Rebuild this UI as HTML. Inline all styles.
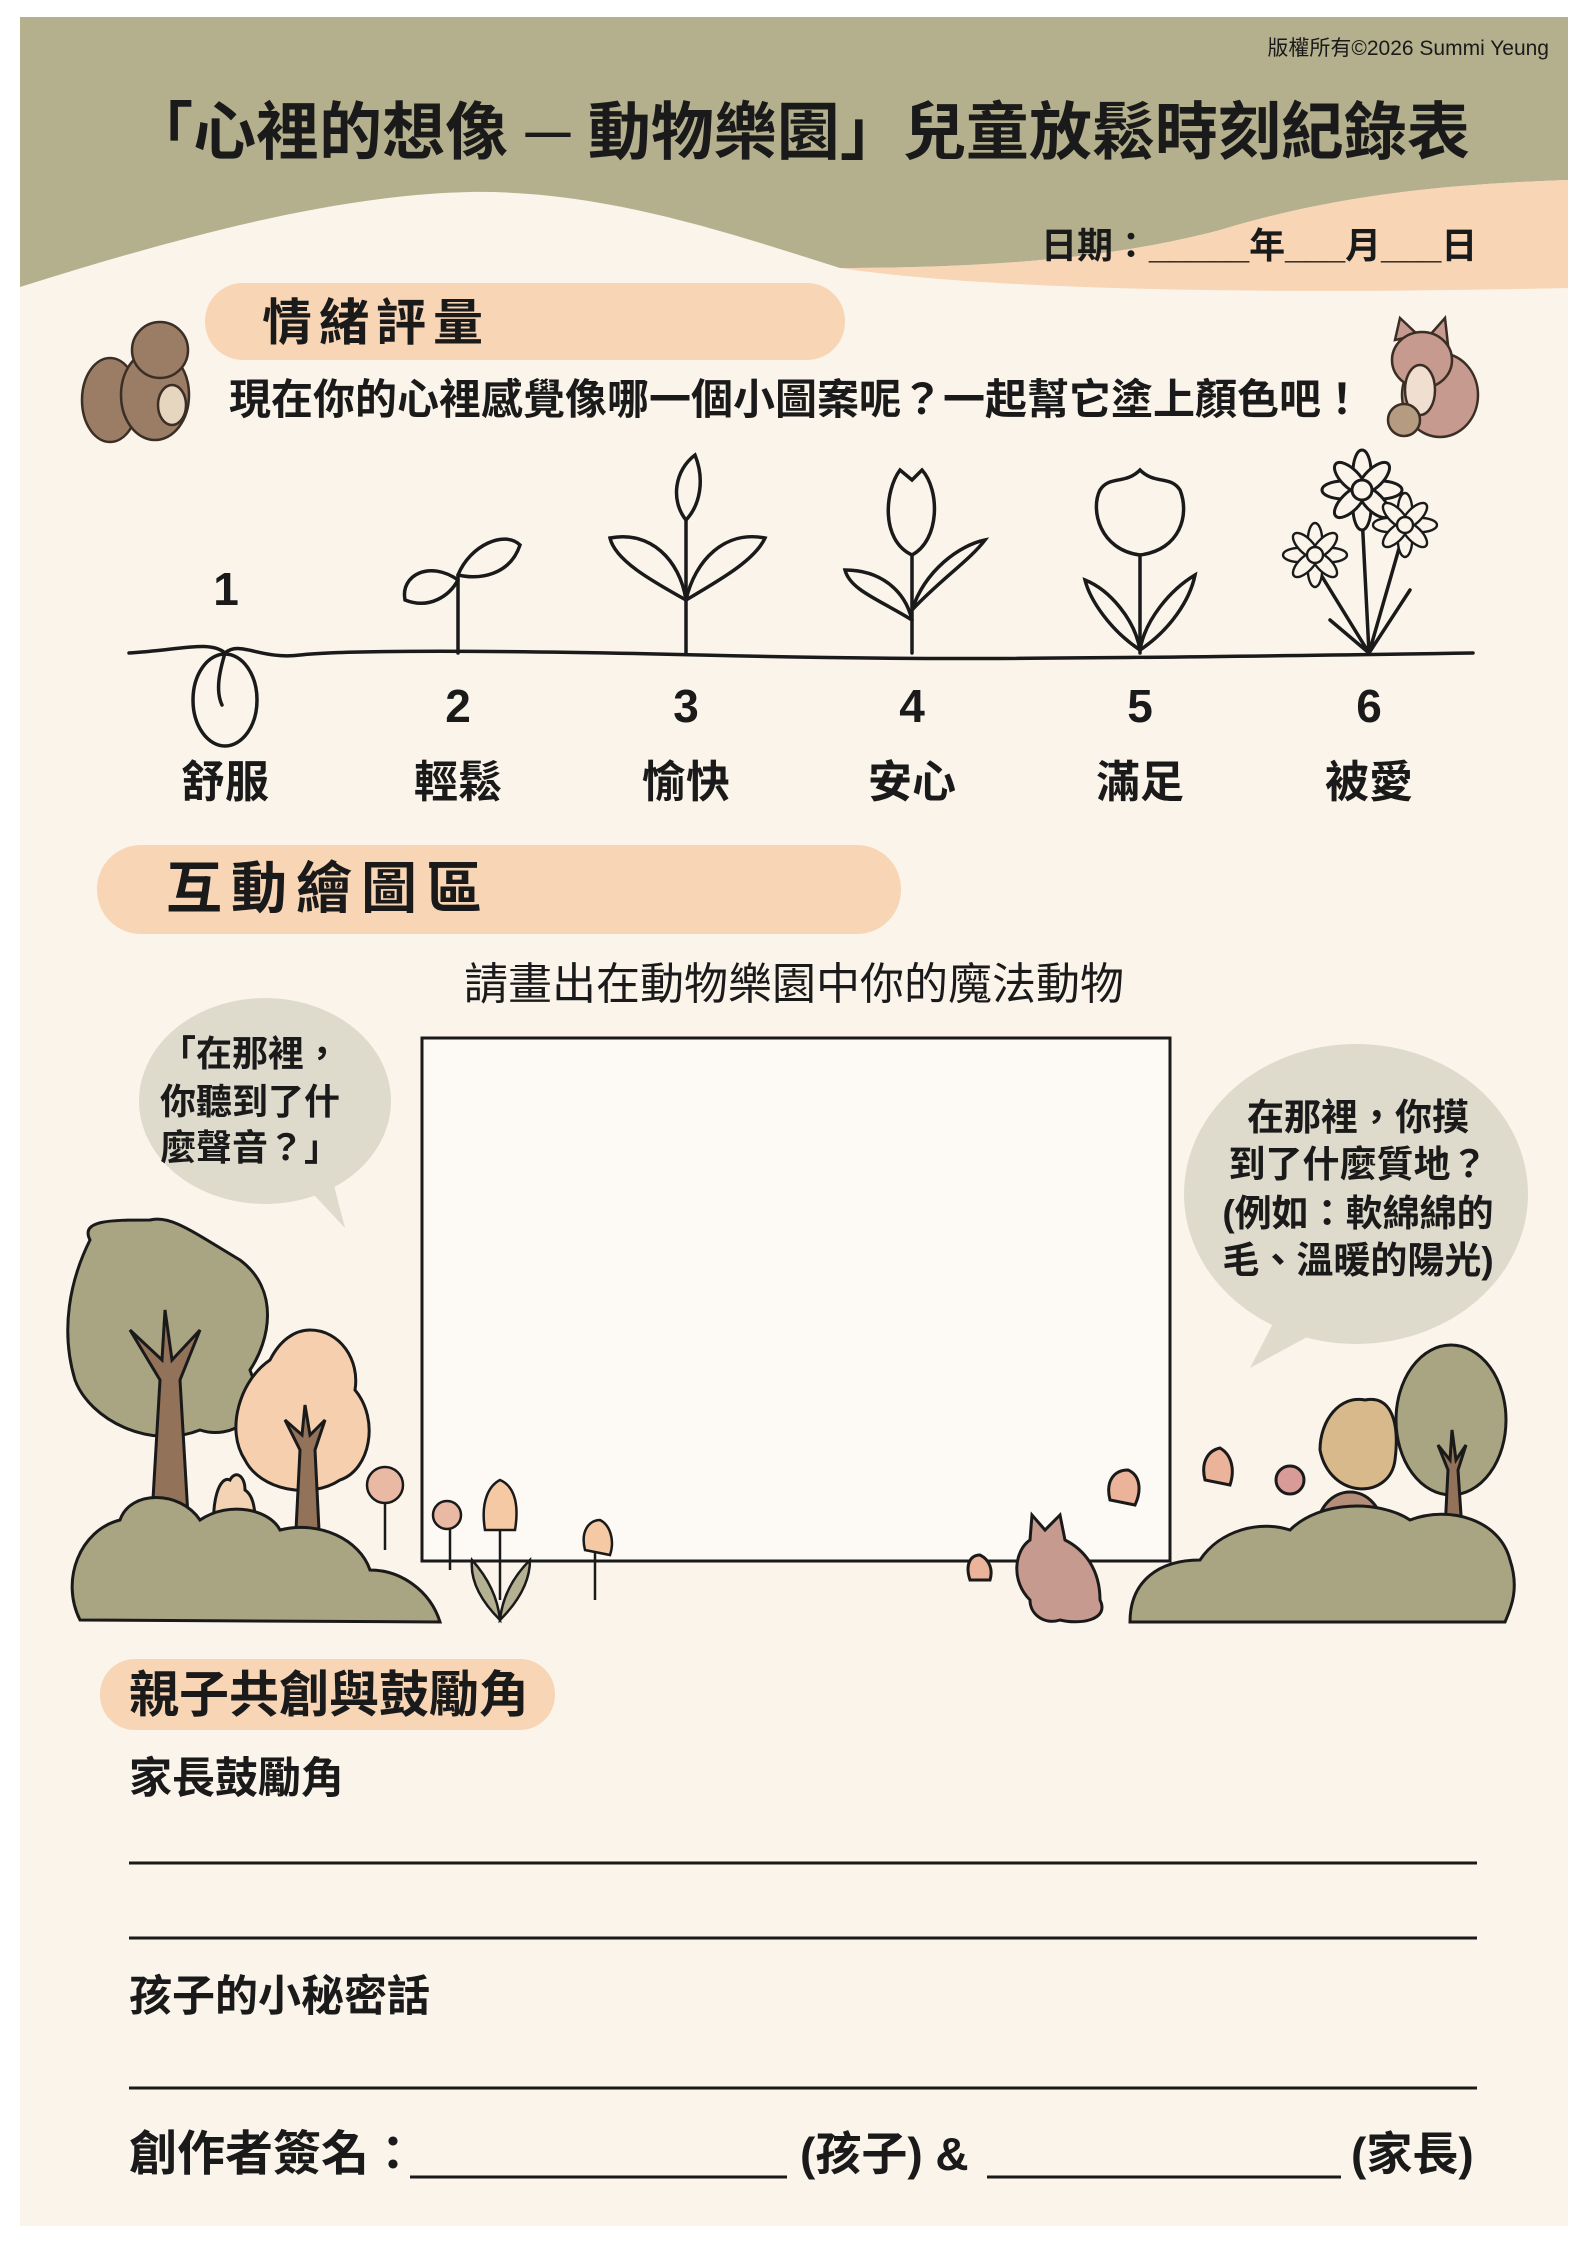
<!DOCTYPE html>
<html><head><meta charset="utf-8"><style>
html,body{margin:0;padding:0;background:#fff;}
svg{display:block;}
text{font-family:"Liberation Sans","Noto Sans CJK TC",sans-serif;fill:#1a1a1a;}
.b{font-weight:bold;}
</style></head><body>
<svg width="1587" height="2245" viewBox="0 0 1587 2245" xmlns="http://www.w3.org/2000/svg">
<rect x="20" y="17" width="1548" height="2209" fill="#faf4eb"/>
<!-- header -->
<path d="M20 17 H1568 V180 C1420 185 1320 200 1220 230 C1100 262 960 268 840 268 C720 230 600 190 470 192 C330 195 170 240 20 287 Z" fill="#b4b08e"/>
<path d="M1568 180 C1420 185 1320 200 1220 230 C1100 262 960 268 840 268 C1000 292 1300 294 1568 288 Z" fill="#f8d5b5"/>
<text x="1549" y="55" font-size="21" text-anchor="end" fill="#333">版權所有©2026 Summi Yeung</text>
<text x="800" y="154" font-size="63" class="b" text-anchor="middle">「心裡的想像 ─ 動物樂園」兒童放鬆時刻紀錄表</text>
<text x="1041" y="258" font-size="36" class="b">日期：_____年___月___日</text>
<!-- 情緒評量 -->
<rect x="205" y="283" width="640" height="77" rx="38" fill="#f8d5b5"/>
<text x="262" y="340" font-size="50" class="b" letter-spacing="7">情緒評量</text>
<text x="229" y="414" font-size="42" class="b">現在你的心裡感覺像哪一個小圖案呢？一起幫它塗上顏色吧！</text>
<!-- squirrel -->
<g stroke="#3a2e25" stroke-width="2.5">
<ellipse cx="110" cy="400" rx="28" ry="42" fill="#9b7d65"/>
<ellipse cx="155" cy="395" rx="34" ry="45" fill="#9b7d65"/>
<circle cx="160" cy="350" r="28" fill="#9b7d65"/>
<ellipse cx="172" cy="405" rx="14" ry="20" fill="#e6d5bf"/>
</g>
<!-- dog -->
<g stroke="#3a2e25" stroke-width="2.5">
<ellipse cx="1440" cy="395" rx="38" ry="42" fill="#c79a90"/>
<path d="M1395 340 L1400 318 L1418 335 Z M1430 335 L1445 318 L1448 345 Z" fill="#c79a90"/>
<ellipse cx="1422" cy="360" rx="30" ry="28" fill="#c79a90"/>
<ellipse cx="1420" cy="390" rx="15" ry="25" fill="#f0dfd0"/>
<circle cx="1404" cy="420" r="16" fill="#b59c80"/>
</g>
<!-- plants -->
<g fill="none" stroke="#1a1a1a" stroke-width="3.5" stroke-linecap="round">
<path d="M129 653 C180 650 210 640 225 653 C240 640 260 660 300 655 S500 650 700 655 S1000 660 1473 653"/>
<ellipse cx="225" cy="700" rx="32" ry="46"/>
<path d="M225 653 C220 670 215 690 222 705"/>
<path d="M458 653 V575"/>
<path d="M458 580 C430 560 400 575 405 600 C430 610 450 595 458 580"/>
<path d="M458 575 C470 545 505 530 520 545 C510 575 480 580 458 575"/>
<path d="M686 653 V520"/>
<path d="M686 520 C670 500 675 470 695 455 C705 480 700 505 686 520"/>
<path d="M686 600 C650 580 615 560 610 538 C650 530 680 560 686 600"/>
<path d="M686 600 C720 580 755 560 765 538 C725 530 695 560 686 600"/>
<path d="M912 653 V555"/>
<path d="M912 555 C880 540 885 490 900 470 L912 480 L922 470 C940 490 940 540 912 555 Z"/>
<path d="M912 620 C880 600 850 590 845 570 C880 570 905 590 912 620"/>
<path d="M912 610 C940 580 970 560 985 540 C960 545 925 570 912 610"/>
<path d="M1140 653 V555"/>
<path d="M1140 555 C1100 550 1090 510 1100 490 C1110 475 1125 485 1140 470 C1155 485 1170 475 1180 490 C1190 515 1180 550 1140 555 Z"/>
<path d="M1140 650 C1110 630 1090 600 1085 580 C1110 590 1135 620 1140 650"/>
<path d="M1140 650 C1170 630 1190 600 1195 575 C1170 590 1145 620 1140 650"/>
<path d="M1369 653 L1362 515 M1369 653 L1400 545 M1369 653 L1318 570 M1369 653 L1410 590 M1369 653 L1330 620"/>
</g>
<g fill="#faf4eb" stroke="#1a1a1a" stroke-width="3">
<g transform="translate(1362,490)"><ellipse rx="9" ry="22" cy="-18"/><ellipse rx="9" ry="22" cy="18"/><ellipse rx="22" ry="9" cx="-18"/><ellipse rx="22" ry="9" cx="18"/><ellipse rx="9" ry="20" transform="rotate(45) translate(0,-17)"/><ellipse rx="9" ry="20" transform="rotate(-45) translate(0,-17)"/><ellipse rx="9" ry="20" transform="rotate(135) translate(0,-17)"/><ellipse rx="9" ry="20" transform="rotate(-135) translate(0,-17)"/><circle r="10"/></g>
<g transform="translate(1405,525) scale(0.8)"><ellipse rx="9" ry="22" cy="-18"/><ellipse rx="9" ry="22" cy="18"/><ellipse rx="22" ry="9" cx="-18"/><ellipse rx="22" ry="9" cx="18"/><ellipse rx="9" ry="20" transform="rotate(45) translate(0,-17)"/><ellipse rx="9" ry="20" transform="rotate(-45) translate(0,-17)"/><ellipse rx="9" ry="20" transform="rotate(135) translate(0,-17)"/><ellipse rx="9" ry="20" transform="rotate(-135) translate(0,-17)"/><circle r="10"/></g>
<g transform="translate(1315,555) scale(0.8)"><ellipse rx="9" ry="22" cy="-18"/><ellipse rx="9" ry="22" cy="18"/><ellipse rx="22" ry="9" cx="-18"/><ellipse rx="22" ry="9" cx="18"/><ellipse rx="9" ry="20" transform="rotate(45) translate(0,-17)"/><ellipse rx="9" ry="20" transform="rotate(-45) translate(0,-17)"/><ellipse rx="9" ry="20" transform="rotate(135) translate(0,-17)"/><ellipse rx="9" ry="20" transform="rotate(-135) translate(0,-17)"/><circle r="10"/></g>
</g>
<g class="b" font-size="46" text-anchor="middle">
<text x="226" y="605">1</text><text x="458" y="722">2</text><text x="686" y="722">3</text><text x="912" y="722">4</text><text x="1140" y="722">5</text><text x="1369" y="722">6</text>
</g>
<g class="b" font-size="44" text-anchor="middle">
<text x="225" y="797">舒服</text><text x="458" y="797">輕鬆</text><text x="686" y="797">愉快</text><text x="912" y="797">安心</text><text x="1140" y="797">滿足</text><text x="1369" y="797">被愛</text>
</g>
<!-- 互動繪圖區 -->
<rect x="97" y="845" width="804" height="89" rx="44" fill="#f8d5b5"/>
<text x="166" y="908" font-size="56" class="b" letter-spacing="9">互動繪圖區</text>
<text x="794" y="999" font-size="44" text-anchor="middle">請畫出在動物樂園中你的魔法動物</text>
<rect x="422" y="1038" width="748" height="523" fill="#fdfaf5" stroke="#1a1a1a" stroke-width="3"/>
<!-- bubbles -->
<ellipse cx="265" cy="1101" rx="126" ry="103" fill="#dedbcd"/>
<path d="M300 1180 L345 1228 L330 1170 Z" fill="#dedbcd"/>
<g class="b" font-size="36" text-anchor="middle">
<text x="250" y="1066">「在那裡，</text><text x="250" y="1114">你聽到了什</text><text x="250" y="1160">麼聲音？」</text>
</g>
<ellipse cx="1356" cy="1194" rx="172" ry="150" fill="#dedbcd"/>
<path d="M1280 1310 L1250 1368 L1320 1330 Z" fill="#dedbcd"/>
<g class="b" font-size="37" text-anchor="middle">
<text x="1358" y="1130">在那裡，你摸</text><text x="1358" y="1177">到了什麼質地？</text><text x="1358" y="1226">(例如：軟綿綿的</text><text x="1358" y="1273">毛、溫暖的陽光)</text>
</g>
<!-- left scenery -->
<g stroke="#1a1a1a" stroke-width="3">
<path d="M90 1240 C80 1220 110 1220 150 1220 C170 1215 190 1230 240 1260 C280 1290 270 1340 250 1370 C270 1420 230 1440 200 1430 C150 1450 90 1420 75 1380 C60 1330 70 1280 90 1240 Z" fill="#a9a583"/>
<path d="M310 1330 C340 1330 360 1360 355 1390 C380 1420 370 1470 340 1480 C310 1500 260 1490 245 1460 C225 1430 240 1380 270 1360 C280 1340 295 1330 310 1330 Z" fill="#f5cfae"/>
<path d="M150 1550 L160 1380 L130 1330 L162 1360 L165 1310 L172 1360 L200 1330 L180 1380 L190 1550 Z" fill="#93725a"/>
<path d="M295 1550 L300 1450 L285 1420 L302 1435 L305 1405 L310 1435 L325 1420 L315 1450 L320 1550 Z" fill="#93725a"/>
<path d="M215 1540 C210 1500 220 1475 230 1480 C235 1470 245 1475 245 1490 C260 1500 255 1540 250 1550 Z" fill="#f3d3b3"/>
<path d="M80 1620 C60 1580 80 1530 120 1520 C130 1490 180 1490 200 1520 C230 1500 270 1510 280 1530 C320 1520 360 1540 370 1570 C400 1570 430 1590 440 1622 Z" fill="#a9a583"/>
</g>
<!-- flowers left -->
<g stroke="#1a1a1a" stroke-width="2.5">
<path d="M385 1550 V1480 M450 1570 V1510 M500 1600 V1520 M595 1600 V1540" fill="none"/>
<circle cx="385" cy="1485" r="18" fill="#eab9a4"/>
<circle cx="447" cy="1515" r="14" fill="#eab9a4"/>
<path d="M485 1530 C480 1500 490 1485 500 1480 C512 1485 520 1500 515 1530 Z" fill="#f5c9a4"/>
<path d="M585 1550 C580 1530 590 1520 600 1520 C610 1525 615 1540 610 1555 Z" fill="#f5c9a4"/>
<path d="M500 1620 C480 1600 470 1580 472 1560 C490 1580 498 1600 500 1620 Z M500 1620 C520 1600 530 1580 530 1560 C510 1580 502 1600 500 1620 Z" fill="#b3b192"/>
</g>
<!-- right scenery -->
<g stroke="#1a1a1a" stroke-width="3">
<ellipse cx="1451" cy="1420" rx="55" ry="75" fill="#a9a583"/>
<path d="M1320 1450 C1320 1420 1340 1395 1365 1400 C1390 1395 1400 1420 1395 1460 C1390 1500 1330 1500 1320 1450 Z" fill="#d7b98b"/>
<path d="M1445 1530 L1448 1470 L1438 1445 L1450 1460 L1452 1430 L1456 1460 L1466 1445 L1458 1470 L1462 1530 Z" fill="#93725a"/>
<ellipse cx="1350" cy="1530" rx="33" ry="38" fill="#b58e7a"/>
<path d="M1130 1622 C1130 1580 1160 1560 1200 1560 C1220 1530 1260 1520 1290 1530 C1320 1500 1380 1500 1410 1520 C1450 1505 1500 1520 1510 1560 C1520 1590 1510 1610 1505 1622 Z" fill="#a9a583"/>
<path d="M1030 1600 C1010 1580 1015 1550 1030 1540 L1032 1515 L1045 1530 L1060 1515 L1065 1540 C1085 1550 1100 1570 1100 1600 C1110 1620 1080 1625 1060 1620 C1045 1625 1030 1615 1030 1600 Z" fill="#c79a90"/>
<path d="M970 1580 C965 1565 970 1555 980 1555 C990 1560 993 1570 990 1580 Z M1110 1500 C1105 1480 1115 1470 1128 1470 C1140 1475 1142 1490 1135 1505 Z M1205 1480 C1200 1460 1210 1450 1220 1448 C1232 1455 1235 1470 1230 1485 Z" fill="#eab39a"/>
<circle cx="1290" cy="1480" r="14" fill="#d99b97"/>
</g>
<!-- 親子共創 -->
<rect x="100" y="1659" width="455" height="71" rx="35" fill="#f8d5b5"/>
<text x="129" y="1712" font-size="50" class="b">親子共創與鼓勵角</text>
<text x="129" y="1793" font-size="43" class="b">家長鼓勵角</text>
<g stroke="#1a1a1a" stroke-width="3">
<line x1="129" y1="1863" x2="1477" y2="1863"/>
<line x1="129" y1="1938" x2="1477" y2="1938"/>
<line x1="129" y1="2088" x2="1477" y2="2088"/>
<line x1="410" y1="2177" x2="787" y2="2177"/>
<line x1="987" y1="2177" x2="1341" y2="2177"/>
</g>
<text x="129" y="2011" font-size="43" class="b">孩子的小秘密話</text>
<text x="129" y="2170" font-size="48" class="b">創作者簽名：</text>
<text x="800" y="2170" font-size="46" class="b">(孩子) &amp;</text>
<text x="1351" y="2170" font-size="46" class="b">(家長)</text>
</svg>
</body></html>
